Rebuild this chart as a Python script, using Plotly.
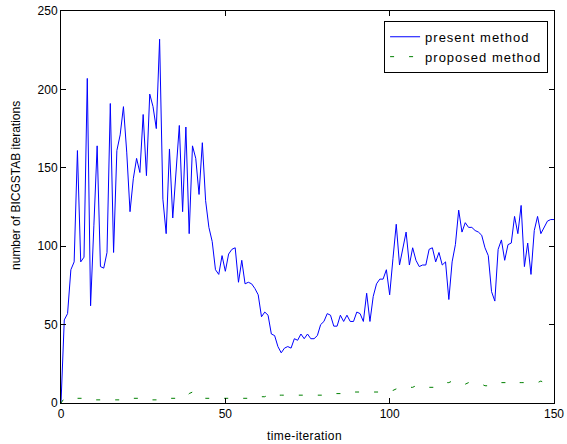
import plotly.graph_objects as go

iterations = list(range(0, 151))

present_method = [
    0, 53, 57, 85, 90, 161, 90, 93, 207, 62,
    113, 164, 87, 86, 96, 191, 96, 161, 171, 189,
    160, 122, 143, 156, 147, 184, 145, 197, 189, 175,
    232, 130, 108, 162, 118, 148, 177, 122, 176, 108,
    164, 156, 133, 166, 129, 112, 103, 85, 82, 94,
    84, 95, 98, 99, 77, 91, 76, 77, 76, 73,
    69, 55, 58, 56, 44, 43, 36, 32, 35, 36,
    35, 41, 40, 44, 41, 44, 41, 41, 43, 50,
    52, 57, 56, 49, 49, 56, 52, 56, 52, 52,
    58, 57, 52, 70, 52, 68, 76, 79, 79, 85,
    69, 92, 114, 88, 98, 109, 88, 99, 91, 87,
    88, 88, 98, 99, 90, 96, 88, 90, 66, 90,
    101, 123, 109, 115, 112, 112, 110, 109, 107, 99,
    94, 71, 65, 98, 104, 91, 101, 102, 119, 108,
    126, 87, 102, 82, 110, 119, 108, 112, 116, 117,
    117,
]

proposed_method = [
    0, 3, 3, 3, 3, 3, 3, 3, 3, 2,
    2, 2, 2, 2, 2, 2, 2, 2, 2, 2,
    2, 3, 3, 3, 3, 3, 3, 2, 2, 2,
    2, 2, 2, 3, 3, 3, 3, 3, 4, 6,
    7, 5, 4, 3, 3, 3, 3, 3, 3, 3,
    3, 3, 3, 3, 3, 3, 3, 3, 3, 3,
    3, 4, 4, 5, 4, 4, 5, 5, 5, 5,
    5, 5, 5, 5, 5, 5, 5, 5, 5, 5,
    5, 5, 6, 6, 6, 6, 6, 6, 6, 7,
    7, 7, 7, 7, 7, 7, 7, 7, 8, 8,
    8, 8, 9, 9, 9, 10, 10, 10, 11, 11,
    11, 10, 10, 10, 10, 11, 12, 13, 13, 14,
    13, 13, 13, 12, 13, 12, 12, 12, 12, 11,
    11, 11, 12, 13, 13, 13, 13, 13, 14, 13,
    13, 13, 13, 13, 13, 13, 14, 13, 13, 14,
    14,
]

x_ticks = [0, 50, 100, 150]
y_ticks = [0, 50, 100, 150, 200, 250]
series_names = ["present method", "proposed method"]
x_title = "time-iteration"
y_title = "number of BICGSTAB iterations"

FONT = "Liberation Sans, Arial, sans-serif"


def spaced(text, px):
    return '<span style="letter-spacing:%gpx">' % px + text + '</span>'


fig = go.Figure()
fig.add_trace(go.Scatter(
    x=iterations, y=present_method, mode="lines", name=spaced(series_names[0], 1),
    line=dict(color="rgb(0,0,255)", width=1),
))
fig.add_trace(go.Scatter(
    x=iterations, y=proposed_method, mode="lines", name=spaced(series_names[1], 1),
    line=dict(color="rgb(0,128,0)", width=1, dash="4px,15px"),
))

axis_common = dict(
    showline=True, linecolor="black", linewidth=1, mirror="ticks",
    ticks="inside", ticklen=5, tickcolor="black", tickwidth=1,
    showgrid=False, zeroline=False, automargin=False,
    tickfont=dict(family=FONT, size=12, color="black"),
)

fig.update_xaxes(range=[0, 150], tickvals=x_ticks, ticktext=[str(v) for v in x_ticks], **axis_common)
fig.update_yaxes(range=[0, 250], tickvals=y_ticks, ticktext=[str(v) for v in y_ticks], **axis_common)

fig.add_annotation(
    text=spaced(x_title, 0.4), xref="paper", yref="paper", x=0.494, y=-0.084,
    xanchor="center", yanchor="middle", showarrow=False,
    font=dict(family=FONT, size=12, color="black"),
)
fig.add_annotation(
    text=y_title, xref="paper", yref="paper", x=-0.091, y=0.554,
    xanchor="center", yanchor="middle", showarrow=False, textangle=-90,
    font=dict(family=FONT, size=12, color="black"),
)

fig.update_layout(
    width=567, height=444,
    margin=dict(l=61, r=13, t=11, b=41, autoexpand=False),
    paper_bgcolor="white", plot_bgcolor="white",
    font=dict(family=FONT, size=12, color="black"),
    legend=dict(
        x=0.988, y=0.975, xanchor="right", yanchor="top",
        bgcolor="white", bordercolor="black", borderwidth=1,
        font=dict(family=FONT, size=13, color="black"),
        tracegroupgap=0,
    ),
)

fig.write_html(
    "out.html",
    config={"displayModeBar": False},
    post_script="document.body.style.margin='0';",
)
